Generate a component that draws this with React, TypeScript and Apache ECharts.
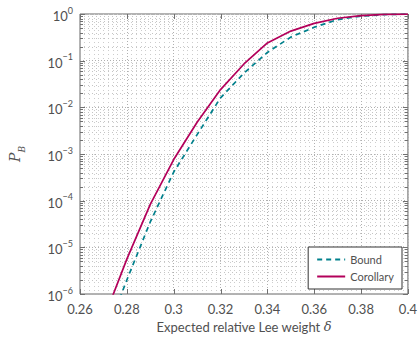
import React, { useEffect, useRef } from "react";
import * as echarts from "echarts";

const deltas = [0.27, 0.28, 0.29, 0.3, 0.31, 0.32, 0.33, 0.34, 0.35, 0.36, 0.37, 0.38, 0.39, 0.4];
const boundValues = [1.0e-7, 2.0e-6, 3.5e-5, 4.1e-4, 2.6e-3, 1.6e-2, 5.4e-2, 0.15, 0.32, 0.52, 0.76, 0.9, 0.972, 0.995];
const corollaryValues = [2.8e-7, 5.6e-6, 8.3e-5, 7.6e-4, 4.8e-3, 2.4e-2, 8.5e-2, 0.24, 0.43, 0.63, 0.81, 0.92, 0.977, 0.995];
const xTickValues = [0.26, 0.28, 0.3, 0.32, 0.34, 0.36, 0.38, 0.4];
const yDecadeExponents = [0, -1, -2, -3, -4, -5, -6];
const seriesNames = ["Bound", "Corollary"];

const TEXT = "#505050";
const FONT = "Lato, 'DejaVu Sans', sans-serif";

export default function App() {
  const ref = useRef<HTMLDivElement>(null);
  useEffect(() => {
    if (!ref.current) return;
    const chart = echarts.init(ref.current, null, { renderer: "svg" });
    const xMin = xTickValues[0];
    const xMax = xTickValues[xTickValues.length - 1];
    const yMin = Math.pow(10, Math.min(...yDecadeExponents));
    const yMax = Math.pow(10, Math.max(...yDecadeExponents));

    const renderTicks = (params: any, api: any) => {
      const cs = params.coordSys;
      const left = cs.x, right = cs.x + cs.width, top = cs.y, bottom = cs.y + cs.height;
      const children: any[] = [];
      const r = (v: number) => Math.round(v) + 0.5;
      const topExp = Math.max(...yDecadeExponents);
      for (const e of yDecadeExponents) {
        if (e === topExp) continue;
        for (let m = 2; m <= 9; m++) {
          const y = r(api.coord([xMin, m * Math.pow(10, e)])[1]);
          children.push({ type: "line", shape: { x1: left, y1: y, x2: right, y2: y }, style: { stroke: "#c4c4c4", lineWidth: 1, lineDash: [1, 3] }, silent: true });
          children.push({ type: "line", shape: { x1: left, y1: y, x2: left + 3, y2: y }, style: { stroke: "#707070", lineWidth: 1 }, silent: true });
          children.push({ type: "line", shape: { x1: right - 3, y1: y, x2: right, y2: y }, style: { stroke: "#707070", lineWidth: 1 }, silent: true });
        }
      }
      for (const e of yDecadeExponents) {
        const y = r(api.coord([xMin, Math.pow(10, e)])[1]);
        children.push({ type: "line", shape: { x1: left, y1: y, x2: left + 5, y2: y }, style: { stroke: "#707070", lineWidth: 1 }, silent: true });
        children.push({ type: "line", shape: { x1: right - 5, y1: y, x2: right, y2: y }, style: { stroke: "#707070", lineWidth: 1 }, silent: true });
      }
      for (const xv of xTickValues) {
        const x = r(api.coord([xv, yMin])[0]);
        children.push({ type: "line", shape: { x1: x, y1: bottom, x2: x, y2: bottom - 5 }, style: { stroke: "#707070", lineWidth: 1 }, silent: true });
        children.push({ type: "line", shape: { x1: x, y1: top, x2: x, y2: top + 5 }, style: { stroke: "#707070", lineWidth: 1 }, silent: true });
      }
      return { type: "group", children };
    };

    const supLabel = (value: number) => {
      const e = Math.round(Math.log10(value));
      const s = e === 0 ? "0" : "\u2212" + String(-e);
      return `{b|10}{s|${s}}`;
    };

    chart.setOption({
      animation: false,
      textStyle: { fontFamily: FONT },
      grid: { left: 70, right: 11, top: 14, bottom: 41, show: true, borderColor: "#666", borderWidth: 1, backgroundColor: "transparent" },
      legend: {
        data: seriesNames,
        orient: "vertical",
        right: 18,
        top: 247,
        itemWidth: 28,
        itemHeight: 12,
        itemGap: 6,
        padding: [7, 8, 7, 8],
        borderColor: "#333",
        borderWidth: 1,
        borderRadius: 0,
        backgroundColor: "#fff",
        itemStyle: { opacity: 0 },
        textStyle: { fontSize: 11, color: TEXT, fontFamily: FONT },
      },
      xAxis: {
        type: "value",
        min: xMin,
        max: xMax,
        interval: 0.02,
        name: "{n|Expected relative Lee weight }{i|δ}",
        nameLocation: "middle",
        nameGap: 26,
        nameTextStyle: {
          rich: {
            n: { fontSize: 13, color: TEXT, fontFamily: FONT },
            i: { fontSize: 13, color: TEXT, fontStyle: "italic", fontFamily: "'DejaVu Serif', serif" },
          },
        },
        axisLine: { show: false },
        axisTick: { show: false },
        axisLabel: { fontSize: 13, color: TEXT, margin: 8, formatter: (v: number) => String(Number(v.toFixed(2))) },
        splitLine: { show: true, lineStyle: { color: "#b0b0b0", type: [1, 2], width: 1 } },
        minorTick: { show: false, splitNumber: 10 },
        minorSplitLine: { show: true, lineStyle: { color: "#cdcdcd", type: [1, 3], width: 1 } },
      },
      yAxis: {
        type: "log",
        logBase: 10,
        min: yMin,
        max: yMax,
        name: "{p|P}{sub|B}",
        nameLocation: "middle",
        nameGap: 54,
        nameRotate: 90,
        nameTextStyle: {
          rich: {
            p: { fontSize: 14, color: TEXT, fontStyle: "italic", fontFamily: "'DejaVu Serif', serif", verticalAlign: "top", lineHeight: 18 },
            sub: { fontSize: 9, color: TEXT, fontStyle: "italic", fontFamily: "'DejaVu Serif', serif", verticalAlign: "bottom", lineHeight: 18 },
          },
        },
        axisLine: { show: false },
        axisTick: { show: false },
        axisLabel: {
          margin: 7,
          formatter: supLabel,
          rich: {
            b: { fontSize: 13, color: TEXT, fontFamily: FONT, verticalAlign: "bottom", lineHeight: 17 },
            s: { fontSize: 9, color: TEXT, fontFamily: FONT, verticalAlign: "top", lineHeight: 10 },
          },
        },
        splitLine: { show: true, lineStyle: { color: "#b0b0b0", type: [1, 2], width: 1 } },
      },
      series: [
        {
          type: "custom",
          renderItem: renderTicks,
          data: [[xMin, yMin]],
          silent: true,
          z: 1,
          clip: false,
        },
        {
          name: seriesNames[0],
          type: "line",
          data: deltas.map((d, i) => [d, boundValues[i]]),
          symbol: "none",
          clip: true,
          z: 3,
          color: "#00808c",
          lineStyle: { color: "#00808c", width: 1.7, type: [5, 4] },
        },
        {
          name: seriesNames[1],
          type: "line",
          data: deltas.map((d, i) => [d, corollaryValues[i]]),
          symbol: "none",
          clip: true,
          z: 4,
          color: "#b3005a",
          lineStyle: { color: "#b3005a", width: 1.7 },
        },
      ],
    });
    return () => chart.dispose();
  }, []);
  return <div ref={ref} style={{ width: 420, height: 338, position: "absolute", left: 0, top: 0 }} />;
}
